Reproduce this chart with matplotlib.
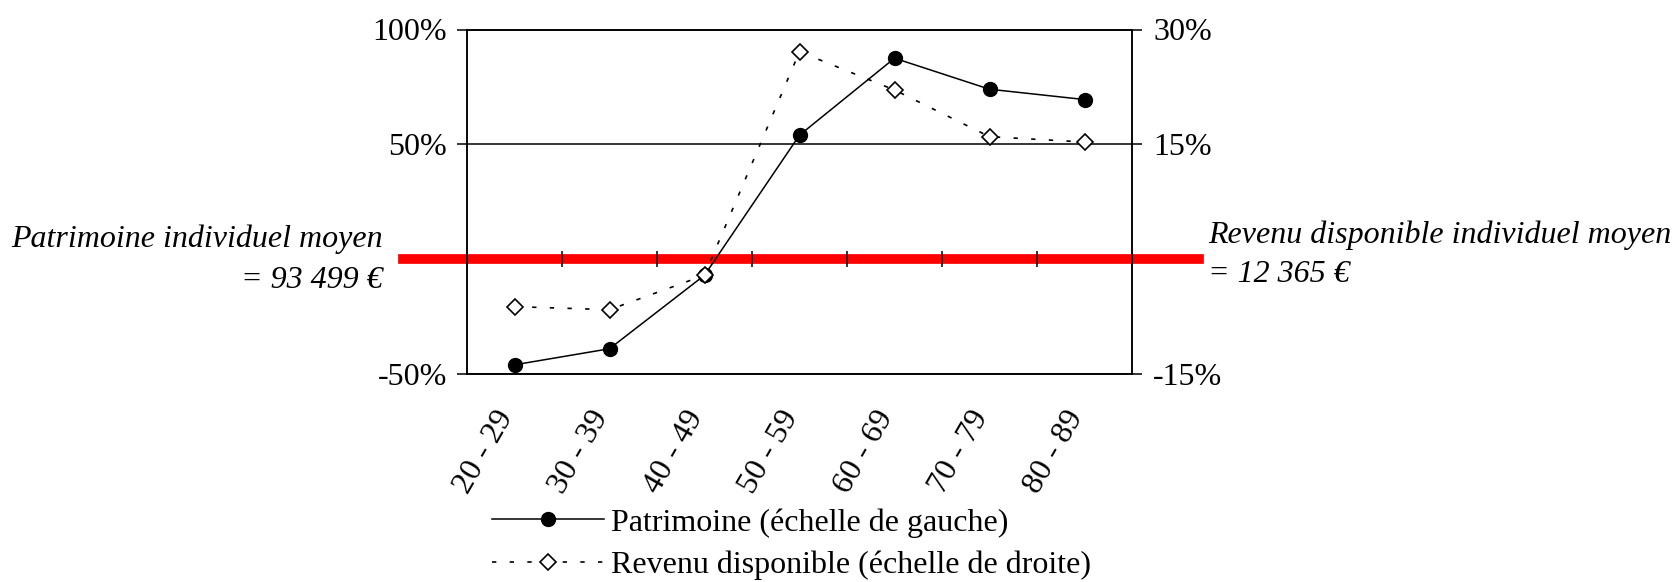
import matplotlib
matplotlib.use('Agg')
import matplotlib.pyplot as plt
from matplotlib.transforms import ScaledTranslation

ages = ['20 - 29', '30 - 39', '40 - 49', '50 - 59', '60 - 69', '70 - 79', '80 - 89']
patrimoine = [-46, -39, -7, 54, 87.5, 74, 69.5]   # echelle de gauche, en %
revenu = [-6.2, -6.6, -2.1, 27.1, 22.1, 16.0, 15.3]  # echelle de droite, en %

left_ticks = [-50, 50, 100]
left_labels = ['-50%', '50%', '100%']
right_ticks = [-15, 15, 30]
right_labels = ['-15%', '15%', '30%']
left_lim = (-50, 100)
right_lim = (-15, 30)

label_patrimoine = 'Patrimoine (échelle de gauche)'
label_revenu = 'Revenu disponible (échelle de droite)'
note_left = ['Patrimoine individuel moyen', '= 93 499 €']
note_right = ['Revenu disponible individuel moyen', '= 12 365 €']

plt.rcParams['font.family'] = ['Liberation Serif', 'DejaVu Serif']
plt.rcParams['font.size'] = 23

W, H = 1677, 582
fig = plt.figure(figsize=(W / 100, H / 100), dpi=100)
ax = fig.add_axes([467 / W, 1 - 374 / H, (1132 - 467) / W, (374 - 29.5) / H])

x = list(range(len(ages)))
line_p, = ax.plot(x, patrimoine, color='black', lw=1.1, marker='o', ms=10,
                  mfc='black', mec='black', zorder=4, label=label_patrimoine)
ax.set_xlim(-0.5, len(ages) - 0.5)
ax.set_ylim(*left_lim)

# ligne rouge = moyenne (0 %)
ax.axhline(0, xmin=-0.096, xmax=1.101, color='#ff0000', lw=7, clip_on=False, zorder=2)

ax2 = ax.twinx()
line_r, = ax2.plot(x, revenu, color='black', lw=1.2, ls=(0, (2.6, 8.0)), marker='D', ms=8.5,
                   mfc='white', mec='black', mew=1.2, zorder=4, label=label_revenu)
ax2.set_ylim(*right_lim)

# axe des abscisses a 0 avec graduations entre les categories
sec = ax.secondary_xaxis((0 - left_lim[0]) / (left_lim[1] - left_lim[0]))
sec.set_xticks([i + 0.5 for i in range(len(ages) - 1)])
sec.tick_params(direction='inout', length=12, width=1.1, labelbottom=False, labeltop=False)
for s in sec.spines.values():
    s.set_visible(False)
sec.set_zorder(3)

ax.set_xticks(x, ages, rotation=60, ha='right', va='center', rotation_mode='anchor')
ax.tick_params(axis='x', length=0, pad=28)
shift = ScaledTranslation(-8 / 100, 0, fig.dpi_scale_trans)
for lbl in ax.get_xticklabels():
    lbl.set_transform(lbl.get_transform() + shift)
ax.set_yticks(left_ticks, left_labels)
ax.tick_params(axis='y', length=7.2, width=1.1, pad=7)
ax2.set_yticks(right_ticks, right_labels)
ax2.tick_params(axis='y', length=7.2, width=1.1, pad=8)
ax.grid(axis='y', color='black', lw=1.1)
for a in (ax, ax2):
    for s in a.spines.values():
        s.set_linewidth(1.1)

fig.text(383 / W, 1 - 247 / H, note_left[0], ha='right', va='baseline', style='italic')
fig.text(383 / W, 1 - 288 / H, note_left[1], ha='right', va='baseline', style='italic')
fig.text(1208 / W, 1 - 243 / H, note_right[0], ha='left', va='baseline', style='italic')
fig.text(1208 / W, 1 - 282 / H, note_right[1], ha='left', va='baseline', style='italic')

fig.legend([line_p, line_r], [label_patrimoine, label_revenu], loc='upper left',
           bbox_to_anchor=(492 / W, 1 - 508 / H), frameon=False, handlelength=3.5,
           handletextpad=0.22, labelspacing=0.4, borderpad=0, borderaxespad=0)

fig.savefig('out.png', dpi=100)
